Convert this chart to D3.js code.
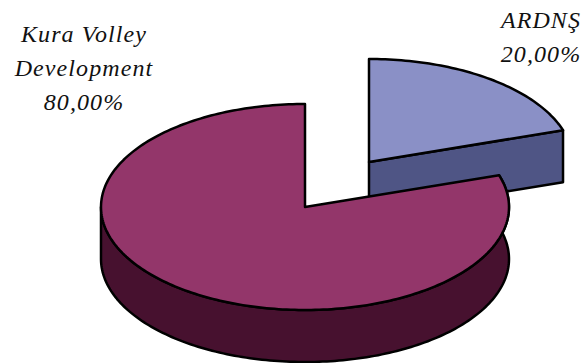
<!DOCTYPE html>
<html><head><meta charset="utf-8">
<script src="https://cdn.jsdelivr.net/npm/d3@7/dist/d3.min.js"></script>
<style>html,body{margin:0;padding:0;background:#fff;overflow:hidden}svg{display:block}</style>
</head><body>
<svg id="chart" width="583" height="363"></svg>
<script>
const categories = ["ARDNŞ", "Kura Volley Development"];
const values = [20, 80];
const labelLines = [["ARDNŞ", "20,00%"], ["Kura Volley", "Development", "80,00%"]];

const topColors = ["#8a90c6", "#93366a"];
const sideColors = ["#4f5585", "#47112f"];
const centers = [[369, 162], [305, 207]];
const labelPos = [[541, 28], [84, 42]];
const rx = 204, ry = 103, depth = 52, lineGap = 34;

const svg = d3.select("#chart");
const pie = d3.pie().sort(null).value(d => d)(values);
const pt = (c, a, dy = 0) => [c[0] + rx * Math.sin(a), c[1] - ry * Math.cos(a) + dy];
const line = d3.line();

function arcPts(c, a0, a1, dy = 0) {
  const n = Math.max(2, Math.ceil(Math.abs(a1 - a0) / 0.02));
  return d3.range(n + 1).map(i => pt(c, a0 + (a1 - a0) * i / n, dy));
}
function draw(d, fill) {
  return svg.append("path").attr("d", d).attr("fill", fill)
    .attr("stroke", "#000").attr("stroke-width", 2.5)
    .attr("stroke-linejoin", "round");
}

// Blue slice: side of the cut, then the top
{
  const p = pie[0], c = centers[0];
  const e = pt(c, p.endAngle);
  draw(line([c, e, [e[0], e[1] + depth], [c[0], c[1] + depth]]) + "Z", sideColors[0]);
  draw(line([c, ...arcPts(c, p.startAngle, p.endAngle)]) + "Z", topColors[0]);
}
// Red slice: outer wall, then the top
{
  const p = pie[1], c = centers[1];
  const a0 = p.startAngle, a1 = 3 * Math.PI / 2;
  draw(line([...arcPts(c, a0, a1), ...arcPts(c, a1, a0, depth)]) + "Z", sideColors[1]);
  draw(line([c, ...arcPts(c, p.startAngle, p.endAngle)]) + "Z", topColors[1]);
}
// Labels
labelLines.forEach((lines, i) => {
  const t = svg.append("text").attr("text-anchor", "middle")
    .attr("font-family", "'Liberation Serif', serif").attr("font-style", "italic")
    .attr("font-size", 24).attr("letter-spacing", 1.1).attr("fill", "#111");
  lines.forEach((s, j) => t.append("tspan")
    .attr("x", labelPos[i][0]).attr("y", labelPos[i][1] + j * lineGap).text(s));
});
</script>
</body></html>
